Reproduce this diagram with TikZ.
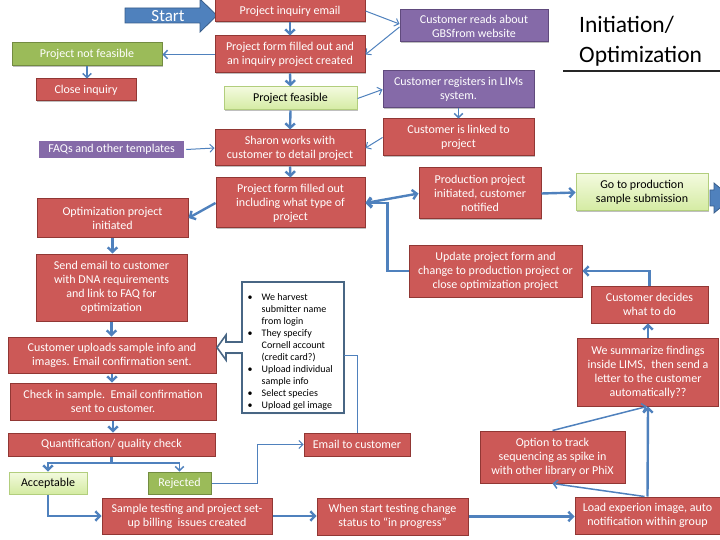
\documentclass[tikz,border=0pt]{standalone}
\usepackage{fontspec}
\setmainfont{Carlito}
\usetikzlibrary{arrows.meta,shadows,calc}
\definecolor{rfill}{RGB}{204,89,87}
\definecolor{rdraw}{RGB}{145,55,52}
\definecolor{pfill}{RGB}{133,106,168}
\definecolor{pdraw}{RGB}{96,74,125}
\definecolor{gfill}{RGB}{155,187,89}
\definecolor{gdraw}{RGB}{115,140,65}
\definecolor{lgtop}{RGB}{243,250,222}
\definecolor{lgbot}{RGB}{212,235,162}
\definecolor{lgdraw}{RGB}{178,206,125}
\definecolor{ablue}{RGB}{79,129,189}
\definecolor{adark}{RGB}{56,93,138}
\definecolor{cdraw}{RGB}{72,102,132}
\tikzset{
  wh/.style 2 args={minimum width=#1,minimum height=#2},
  box/.style={line width=1pt, inner sep=1pt, align=center,
    font=\fontsize{12}{14}\selectfont,
    drop shadow={shadow xshift=0.8pt,shadow yshift=-1.2pt,opacity=0.25,fill=black}},
  rb/.style={box, fill=rfill, draw=rdraw, text=white},
  pb/.style={box, fill=pfill, draw=pdraw, text=white},
  gb/.style={box, fill=gfill, draw=gdraw, text=white},
  lb/.style={box, top color=lgtop, bottom color=lgbot, draw=lgdraw, text=black},
  ar/.style={draw=ablue, line width=2.4pt, -{Straight Barb[length=4.5pt,width=9.5pt]}},
  armid/.style={draw=ablue, line width=1.5pt, -{Straight Barb[length=4pt,width=8.5pt]}},
  arthin/.style={draw=ablue, line width=1pt, -{Straight Barb[length=4pt,width=8pt]}},
  ln/.style={draw=ablue, line width=1pt},
  dar/.style={draw=ablue, line width=2.4pt, {Straight Barb[length=4.5pt,width=9.5pt]}-{Straight Barb[length=4.5pt,width=9.5pt]}},
  blockarrow/.style={fill=ablue, draw=adark, line width=0.8pt}
}
\begin{document}
\begin{tikzpicture}[x=1pt,y=-1pt]
\useasboundingbox (0,0) rectangle (720,540);

% start block arrow
\draw[blockarrow] (125,8) -- (200,8) -- (200,-1) -- (217,15.5) -- (200,32) -- (200,23) -- (125,23) -- cycle;
\node[text=white, font=\fontsize{17}{18}\selectfont, inner sep=0] (start) at (168,16.5) {Start};

% right block arrow
\draw[blockarrow] (710,190) -- (714,190) -- (714,183) -- (732,198) -- (714,213) -- (714,206) -- (710,206) -- cycle;

% title
\node[anchor=base west, inner sep=0, font=\fontsize{23.5}{26}\selectfont] (t1) at (579,33) {Initiation/};
\node[anchor=base west, inner sep=0, font=\fontsize{23.5}{26}\selectfont] (t2) at (579,63) {Optimization};
\draw[line width=2pt, black!85] (563,71) coordinate (u1) -- (720,71) coordinate (u2);

% nodes
\node[rb, wh={150}{22}] (inq) at (290,11) {Project inquiry email};
\node[pb, wh={148}{32}] (reads) at (474,26) {Customer reads about\\GBSfrom website};
\node[rb, wh={150}{37}] (form1) at (290,54.5) {Project form filled out and\\an inquiry project created};
\node[gb, wh={150}{23}] (notfeas) at (87,54.5) {Project not feasible};
\node[rb, wh={100}{22}] (close) at (86,90) {Close inquiry};
\node[lb, wh={133}{23}] (feas) at (290.5,98.5) {Project feasible};
\node[pb, wh={151}{37}] (reg) at (458.5,89.5) {Customer registers in LIMs\\system.};
\node[rb, wh={151}{37}] (linked) at (458.5,137.5) {Customer is linked to\\project};
\node[pb, draw=white, line width=2.5pt, wh={147}{20}] (faqs) at (111.5,149.5) {FAQs and other templates};
\node[rb, wh={150}{36}] (sharon) at (290,148) {Sharon works with\\customer to detail project};
\node[rb, wh={149}{50}] (form2) at (290.5,203) {Project form filled out\\including what type of\\project};
\node[rb, wh={151}{38}] (opt) at (112.5,218) {Optimization project\\initiated};
\node[rb, wh={151}{67}] (send) at (111.5,287.5) {Send email to customer\\with DNA requirements\\and link to FAQ for\\optimization};
\node[rb, wh={208}{36}] (upl) at (112,355) {Customer uploads sample info and\\images. Email confirmation sent.};
\node[rb, wh={206}{37}] (check) at (113,401.5) {Check in sample.\ \ Email confirmation\\sent to customer.};
\node[rb, wh={207}{23}] (quant) at (111.5,444.5) {Quantification/ quality check};
\node[lb, wh={78}{22}] (acc) at (48,483) {Acceptable};
\node[gb, wh={63}{22}] (rej) at (179.5,483) {Rejected};
\node[rb, wh={106}{23}] (emailc) at (357,444.5) {Email to customer};
\node[rb, wh={170}{36}] (samp) at (187,516) {Sample testing and project set-\\up billing\ \ issues created};
\node[rb, wh={151}{37}] (when) at (392.5,516.5) {When start testing change\\status to “in progress”};
\node[rb, wh={145}{37}] (load) at (647.5,515.5) {Load experion image, auto\\notification within group};
\node[rb, wh={145}{52}] (option) at (552.5,457) {Option to track\\sequencing as spike in\\with other library or PhiX};
\node[rb, wh={141}{68}] (summ) at (648,372) {We summarize findings\\inside LIMS,\ \ then send a\\letter to the customer\\automatically??};
\node[rb, wh={117}{37}] (decide) at (649.5,304.5) {Customer decides\\what to do};
\node[rb, wh={173}{52}] (update) at (495.5,271) {Update project form and\\change to production project or\\close optimization project};
\node[rb, wh={122}{51}] (prod) at (480,193.5) {Production project\\initiated, customer\\notified};
\node[lb, wh={132}{37}] (goprod) at (642,192.5) {Go to production\\sample submission};

% callout
\draw[fill=white, draw=cdraw, line width=1.6pt,
  drop shadow={shadow xshift=0.8pt,shadow yshift=-1.2pt,opacity=0.2,fill=black}]
  (242,282) -- (344,282) -- (344,413) -- (242,413) -- (242,353) -- (226,353) -- (226,360)
  -- (217,347.5) -- (226,335) -- (226,342) -- (242,342) -- cycle;
\node[anchor=north west, inner sep=0, align=left, font=\fontsize{10}{12}\selectfont] (callout) at (247.5,291.5)
{\begin{tabular}{@{}l@{\hspace{9pt}}l@{}}
\textbullet & We harvest\\
 & submitter name\\
 & from login\\
\textbullet & They specify\\
 & Cornell account\\
 & (credit card?)\\
\textbullet & Upload individual\\
 & sample info\\
\textbullet & Select species\\
\textbullet & Upload gel image
\end{tabular}};
\coordinate (cr) at (344,355);

% connectors
\draw[ar] (inq.south) -- (form1.north);
\draw[arthin] (inq.east) -- ([yshift=2pt]reads.west);
\draw[arthin] ([yshift=-1pt]reads.west) -- (form1.east);
\draw[armid] (form1.west) -- (notfeas.east);
\draw[armid] (notfeas.south) -- (notfeas.south |- close.north);
\draw[ar] (form1.south) -- (feas.north);
\draw[arthin] (feas.east) -- (reg.west);
\draw[armid] (reg.south) -- (linked.north);
\draw[arthin] (linked.west) -- (sharon.east);
\draw[ar] (feas.south) -- (sharon.north);
\draw[arthin] (faqs.east) -- (sharon.west);
\draw[ar] (sharon.south) -- (form2.north);
\draw[ar] (form2.west) -- (opt.east);
\draw[dar] (form2.east) -- (prod.west);
\draw[ar] (update.west) -- ++(-21,0) |- (form2.east);
\draw[ar] (prod.east) -- (goprod.west);
\draw[ar] (decide.north) |- (update.east);
\draw[ar] (summ.north) -- (summ.north |- decide.south);
\draw[ar] (opt.south) -- (opt.south |- send.north);
\draw[ar] (send.south) -- (send.south |- upl.north);
\draw[ar] (upl.south) -- (upl.south |- check.north);
\draw[ar] (check.south) -- (check.south |- quant.north);
\coordinate (qj) at (111.5,463);
\draw[ar] (quant.south) -- (qj) -| (acc.north);
\draw[armid] (qj) -| (rej.north);
\draw[arthin] (rej.east) -- ++(46,0) |- (emailc.west);
\draw[ln] (cr) -| (emailc.north);
\draw[ar] (acc.south) |- (samp.west);
\draw[ar] (samp.east) -- (samp.east -| when.west);
\draw[ar] (when.east) -- (when.east -| load.west);
\draw[ar] (load.north) -- (summ.south);
\draw[armid] ([xshift=-3pt]load.north) -- (option.south);
\draw[armid] (option.north) -- ([xshift=-1pt]summ.south);
\end{tikzpicture}
\end{document}
